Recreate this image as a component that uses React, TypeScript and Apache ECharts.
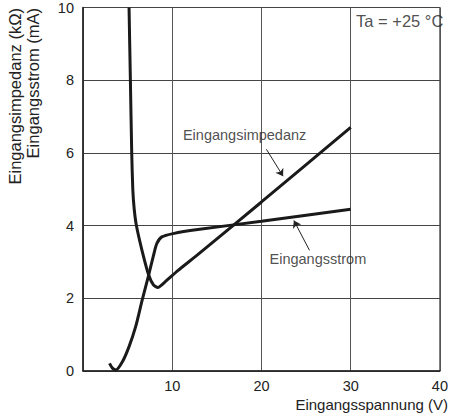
import React, { useEffect, useRef } from "react";
import * as echarts from "echarts";

// Eingangsspannung (V) vs. Eingangsstrom (mA)
const currentData: [number, number][] = [
  [2.97, 0.21], [3.3, 0.08], [3.7, 0.03], [4.43, 0.26], [5.16, 0.67], [5.9, 1.22],
  [6.63, 1.95], [7.36, 2.64], [7.91, 3.19], [8.28, 3.51], [8.83, 3.69], [10.1, 3.78],
  [12.86, 3.89], [20, 4.12], [30, 4.45],
];

// Eingangsspannung (V) vs. Eingangsimpedanz (kOhm)
const impedanceData: [number, number][] = [
  [5.16, 10], [5.31, 8], [5.46, 6], [5.58, 5], [5.74, 4.45], [6.0, 3.98], [6.63, 3.3],
  [7.36, 2.64], [7.91, 2.36], [8.39, 2.3], [9.19, 2.45], [10.66, 2.77], [12.86, 3.2],
  [20, 4.65], [30, 6.7],
];

const xTicks = [0, 10, 20, 30, 40];
const yTicks = [0, 2, 4, 6, 8, 10];

const xTitle = "Eingangsspannung (V)";
const yTitleLines = ["Eingangsimpedanz (kΩ)", "Eingangsstrom (mA)"];

// annotation labels [x, y, text, fontSize]
const labels: [number, number, string, number][] = [
  [11.2, 6.48, "Eingangsimpedanz", 14.5],
  [20.9, 3.08, "Eingangsstrom", 14.5],
  [30.6, 9.64, "Ta = +25 °C", 16.5],
];

// arrows [from, to]
const arrows: [[number, number], [number, number]][] = [
  [[20.55, 6.1], [22.42, 5.36]],
  [[25.38, 3.32], [23.63, 4.14]],
];

const FONT = "Liberation Sans, Arial, Helvetica, sans-serif";

export default function App() {
  const ref = useRef<HTMLDivElement>(null);
  useEffect(() => {
    if (!ref.current) return;
    const chart = echarts.init(ref.current, undefined, { renderer: "svg" });
    chart.setOption({
      animation: false,
      backgroundColor: "#ffffff",
      textStyle: { fontFamily: FONT },
      grid: {
        left: 83, right: 4, top: 7, bottom: 43, containLabel: false,
        show: true, borderColor: "#222", borderWidth: 1,
      },
      xAxis: {
        type: "value",
        min: xTicks[0], max: xTicks[xTicks.length - 1], interval: 10,
        axisLine: { show: true, lineStyle: { color: "#222", width: 1.5 } },
        axisTick: { show: false },
        splitLine: { show: true, lineStyle: { color: "#555", width: 1 } },
        axisLabel: {
          color: "#222", fontSize: 14.5, margin: 7, fontFamily: FONT,
          showMinLabel: false,
        },
      },
      yAxis: {
        type: "value",
        min: yTicks[0], max: yTicks[yTicks.length - 1], interval: 2,
        axisLine: { show: true, lineStyle: { color: "#222", width: 1.5 } },
        axisTick: { show: false },
        splitLine: { show: true, lineStyle: { color: "#444", width: 1 } },
        axisLabel: { color: "#222", fontSize: 14.5, margin: 9, fontFamily: FONT },
      },
      graphic: [
        {
          type: "text", x: 448, y: 404,
          style: { text: xTitle, align: "right", verticalAlign: "middle", fill: "#222", font: `15px ${FONT}` },
        },
        ...yTitleLines.map((t, i) => ({
          type: "text", x: 15 + i * 18, y: 8, rotation: Math.PI / 2,
          style: { text: t, align: "right", verticalAlign: "middle", fill: "#222", font: `16.5px ${FONT}` },
        })),
      ],
      series: [
        {
          type: "line", name: "Eingangsimpedanz", data: impedanceData,
          smooth: 0.2, showSymbol: false, symbol: "none",
          lineStyle: { color: "#1a1a1a", width: 3 },
        },
        {
          type: "line", name: "Eingangsstrom", data: currentData,
          smooth: 0.25, showSymbol: false, symbol: "none",
          lineStyle: { color: "#1a1a1a", width: 3 },
        },
        {
          type: "lines", coordinateSystem: "cartesian2d",
          data: arrows.map((c) => ({ coords: c })),
          symbol: ["none", "arrow"], symbolSize: [0, 7],
          lineStyle: { color: "#222", width: 1, opacity: 1 },
        },
        {
          type: "scatter", symbolSize: 0,
          data: labels.map((l) => ({
            value: [l[0], l[1]],
            name: l[2],
            label: { fontSize: l[3] },
          })),
          label: {
            show: true, position: "right", distance: 0,
            formatter: (p: any) => p.name,
            color: "#222", fontSize: 14.5, fontFamily: FONT,
          },
        },
      ],
    });
    return () => chart.dispose();
  }, []);
  return (
    <div
      ref={ref}
      style={{ position: "fixed", left: 0, top: 0, width: 451, height: 414 }}
    />
  );
}
